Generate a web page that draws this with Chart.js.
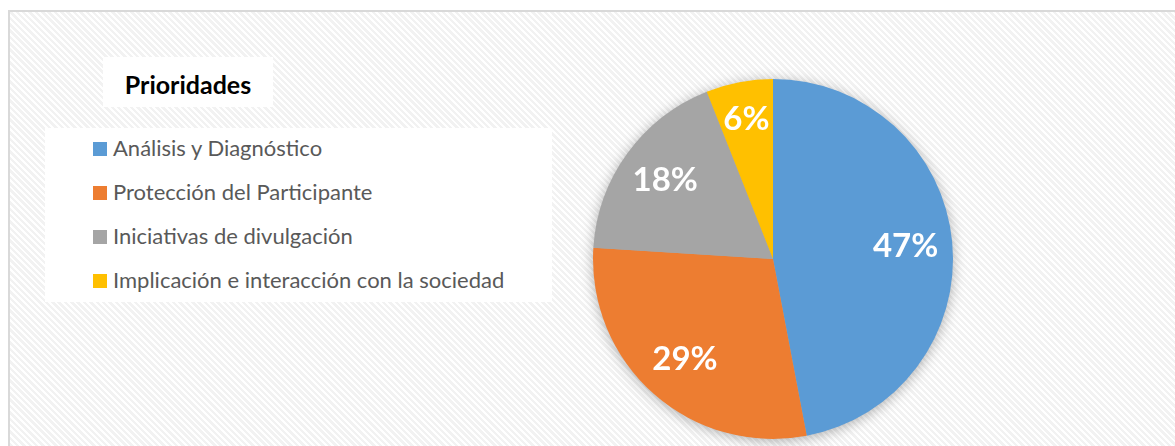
<!DOCTYPE html>
<html>
<head>
<meta charset="utf-8">
<script src="https://cdn.jsdelivr.net/npm/chart.js@4"></script>
<style>
  html, body { margin:0; padding:0; background:#fff; }
  body { width:1175px; height:446px; position:relative; overflow:hidden; }
  #frame {
    position:absolute; left:8px; top:10px; width:1200px; height:460px;
    border:2px solid #d9d9d9; box-sizing:border-box;
    background: repeating-linear-gradient(45deg, #ffffff 0px, #ffffff 2px, #f2f2f2 2px, #f2f2f2 4.5px);
  }
  #chartWrap { position:absolute; left:0; top:0; width:1175px; height:446px; }
  #title {
    position:absolute; left:103px; top:57px; width:170px; height:50px;
    background:#fff; font-family:Lato, "Open Sans", sans-serif; font-weight:bold;
    font-size:25px; color:#000; text-align:center; line-height:54px;
  }
  #legend {
    position:absolute; left:45px; top:128px; width:507px; height:174px;
    background:#fff;
  }
  .item { position:absolute; left:48px; font-family:Lato, "Open Sans", sans-serif; font-size:22px; color:#595959; white-space:nowrap; }
  .sw { display:inline-block; width:14px; height:14px; margin-right:6px; vertical-align:0px; }
</style>
</head>
<body>
<div id="frame"></div>
<div id="title"></div>
<div id="legend"></div>
<div id="chartWrap"><canvas id="c" width="1175" height="446"></canvas></div>
<script>
const titleText = "Prioridades";
const categories = ["Análisis y Diagnóstico", "Protección del Participante", "Iniciativas de divulgación", "Implicación e interacción con la sociedad"];
const values = [47, 29, 18, 6];
const colors = ["#5B9BD5", "#ED7D31", "#A5A5A5", "#FFC000"];

document.getElementById('title').textContent = titleText;
const leg = document.getElementById('legend');
const rowTops = [6, 50, 94, 138];
categories.forEach((c, i) => {
  const d = document.createElement('div');
  d.className = 'item';
  d.style.top = rowTops[i] + 'px';
  const s = document.createElement('span');
  s.className = 'sw'; s.style.background = colors[i];
  d.appendChild(s);
  d.appendChild(document.createTextNode(c));
  leg.appendChild(d);
});

const shadowPlugin = {
  id: 'shadow',
  beforeDatasetsDraw(chart) {
    const arc = chart.getDatasetMeta(0).data[0];
    if (!arc) return;
    const ctx = chart.ctx;
    ctx.save();
    ctx.shadowColor = 'rgba(0,0,0,0.35)';
    ctx.shadowBlur = 14;
    ctx.shadowOffsetX = 0; ctx.shadowOffsetY = 2;
    ctx.fillStyle = '#aaa';
    ctx.beginPath();
    ctx.arc(arc.x, arc.y, arc.outerRadius - 1, 0, Math.PI * 2);
    ctx.fill();
    ctx.restore();
  }
};
const labelPlugin = {
  id: 'labels',
  afterDatasetsDraw(chart) {
    const ctx = chart.ctx;
    const meta = chart.getDatasetMeta(0);
    const total = values.reduce((a, b) => a + b, 0);
    ctx.save();
    ctx.fillStyle = '#fff';
    ctx.font = 'bold 33px Lato, "Open Sans", sans-serif';
    ctx.textAlign = 'center';
    ctx.textBaseline = 'middle';
    meta.data.forEach((arc, i) => {
      const mid = (arc.startAngle + arc.endAngle) / 2;
      const f = values[i] / total < 0.1 ? 0.79 : 0.74;
      const r = arc.outerRadius * f;
      const x = arc.x + Math.cos(mid) * r;
      const y = arc.y + Math.sin(mid) * r;
      ctx.fillText(Math.round(values[i] / total * 100) + '%', x, y);
    });
    ctx.restore();
  }
};

new Chart(document.getElementById('c'), {
  type: 'pie',
  data: { labels: categories, datasets: [{ data: values, backgroundColor: colors, borderWidth: 0 }] },
  options: {
    responsive: false,
    animation: false,
    layout: { padding: { left: 593, right: 222, top: 79, bottom: 7 } },
    plugins: { legend: { display: false }, tooltip: { enabled: false }, title: { display: false } }
  },
  plugins: [shadowPlugin, labelPlugin]
});
</script>
</body>
</html>
